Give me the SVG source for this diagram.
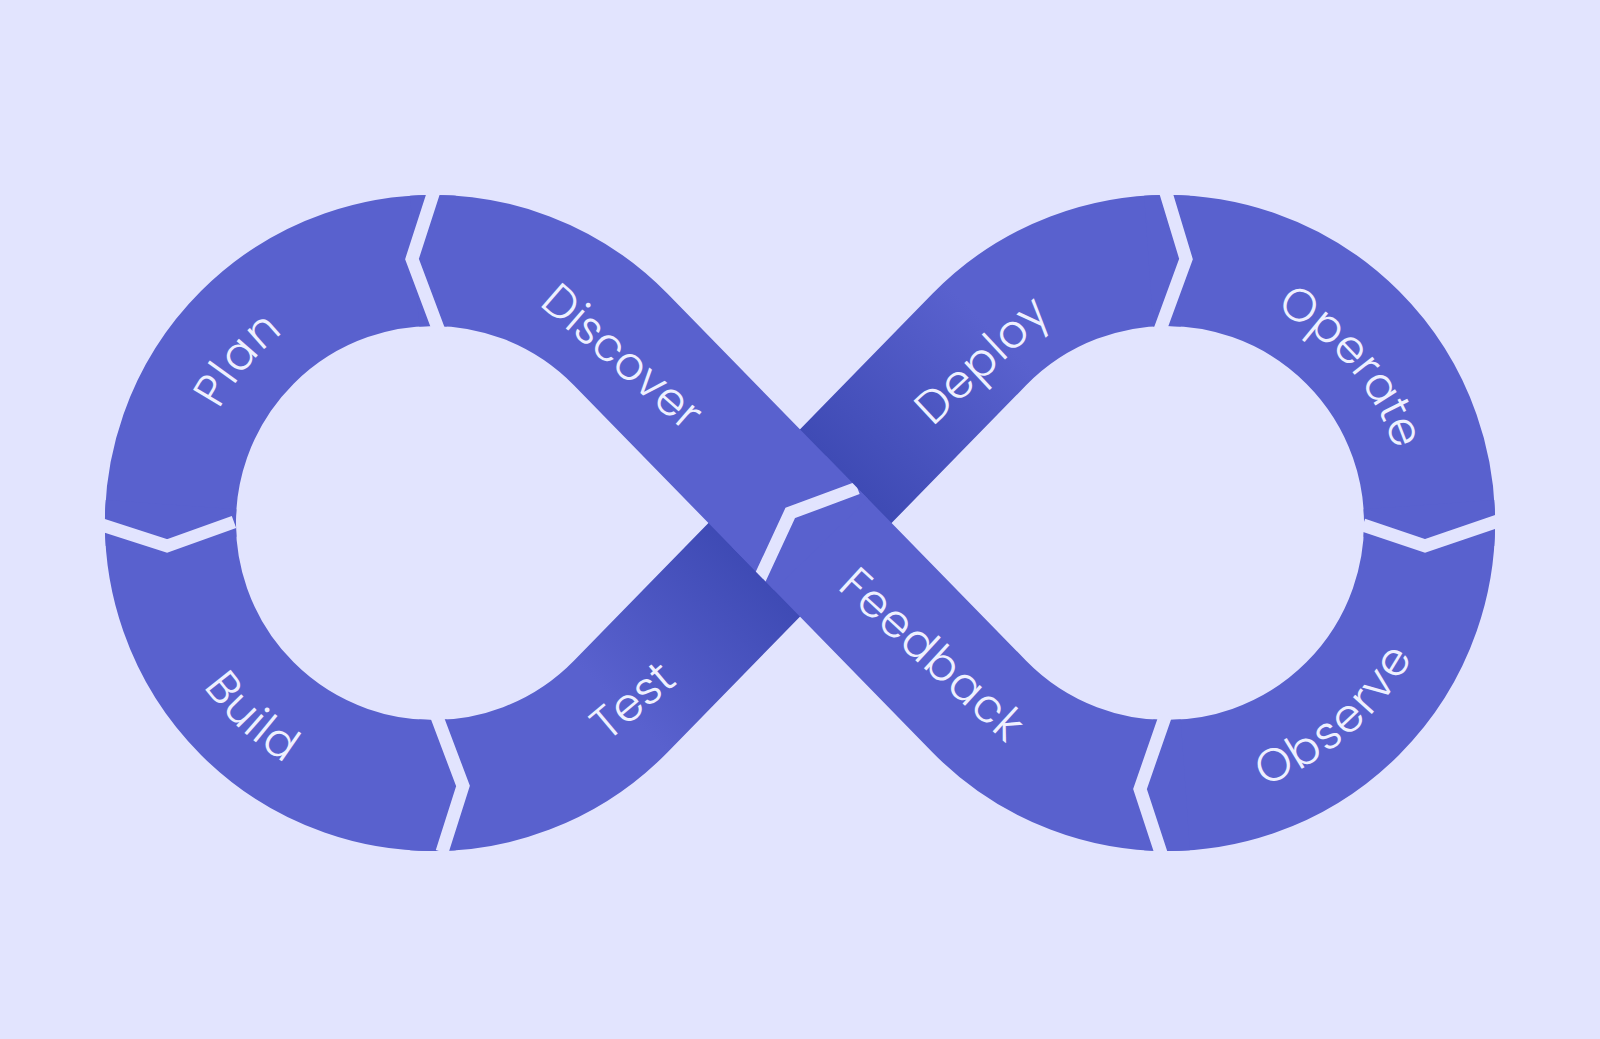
<svg xmlns="http://www.w3.org/2000/svg" width="1600" height="1039" viewBox="0 0 1600 1039">
  <style>
    .band { fill: none; stroke: #5961CE; stroke-width: 131; stroke-linecap: butt; }
    .lbl { font-family: "Poppins", "Open Sans", "Liberation Sans", sans-serif; font-size: 46px; font-weight: 300; fill: #EEF0FF; text-anchor: middle; }
    .sep { fill: none; stroke: #E2E4FE; stroke-width: 13; stroke-linejoin: miter; stroke-linecap: butt; }
  </style>
  <defs>
    <linearGradient id="gTest" gradientUnits="userSpaceOnUse" x1="620.76" y1="706.45" x2="758.1" y2="565.9">
      <stop offset="0" stop-color="#5961CE"/>
      <stop offset="1" stop-color="#3E4AB4"/>
    </linearGradient>
    <linearGradient id="gDeploy" gradientUnits="userSpaceOnUse" x1="841.9" y1="480.1" x2="990" y2="328">
      <stop offset="0" stop-color="#3E4AB4"/>
      <stop offset="1" stop-color="#5961CE"/>
    </linearGradient>
    <clipPath id="clipCross">
      <polygon points="707.07,334.16 986.63,620.28 892.93,711.84 613.37,425.72"/>
    </clipPath>
    <path id="tpPlan" d="M 205.3 605.6 A 243 243 0 0 1 475.2 283.7"/>
    <path id="tpOperate" d="M 1123.86 287.93 A 239 239 0 0 1 1392.15 603.17"/>
    <path id="tpBuild" d="M 158.23 459.56 A 282 282 0 0 0 515.45 792.68"/>
    <path id="tpObserve" d="M 1075.84 787.75 A 280 280 0 0 0 1441.86 469.57"/>
  </defs>

  <rect x="0" y="0" width="1600" height="1039" fill="#E2E4FE"/>

  <g id="test">
    <path class="band" style="stroke:url(#gTest)" d="M 414.7 784.9 A 262.5 262.5 0 0 0 620.76 706.45 L 800 523"/>
    <text class="lbl" x="633" y="701" dy="0.33em" transform="rotate(-40 633 701)">Test</text>
  </g>
  <g id="deploy">
    <path class="band" style="stroke:url(#gDeploy)" d="M 800 523 L 979.24 339.55 A 262.5 262.5 0 0 1 1185.3 261.1"/>
    <text class="lbl" x="982" y="360" dy="0.33em" transform="rotate(-43 982 360)" letter-spacing="1">Deploy</text>
  </g>
  <g id="plan">
    <path class="band" d="M 451.3 261.1 A 262.5 262.5 0 0 0 171.1 541.3"/>
    <text class="lbl" letter-spacing="1.5"><textPath href="#tpPlan" startOffset="50%">Plan</textPath></text>
  </g>
  <g id="build">
    <path class="band" d="M 171.1 504.7 A 262.5 262.5 0 0 0 451.3 784.9"/>
    <text class="lbl" letter-spacing="1"><textPath href="#tpBuild" startOffset="50%">Build</textPath></text>
  </g>
  <g id="operate">
    <path class="band" d="M 1148.7 261.1 A 262.5 262.5 0 0 1 1428.9 541.3"/>
    <text class="lbl"><textPath href="#tpOperate" startOffset="50%">Operate</textPath></text>
  </g>
  <g id="observe">
    <path class="band" d="M 1428.9 504.7 A 262.5 262.5 0 0 1 1148.7 784.9"/>
    <text class="lbl" letter-spacing="2"><textPath href="#tpObserve" startOffset="50%">Observe</textPath></text>
  </g>
  <g id="feedback">
    <path class="band" d="M 1185.3 784.9 A 262.5 262.5 0 0 1 979.24 706.45 L 779.0 501.5"/>
    <text class="lbl" x="932" y="655" dy="0.33em" transform="rotate(42.5 932 655)" letter-spacing="1">Feedback</text>
  </g>
  <g id="discover">
    <path class="band" d="M 821.0 544.5 L 620.76 339.55 A 262.5 262.5 0 0 0 414.7 261.1"/>
    <text class="lbl" x="622" y="357" dy="0.33em" transform="rotate(41 622 357)">Discover</text>
  </g>

  <g id="connectors">
    <polyline class="sep" points="434,191 412,259 439,331"/>
    <polyline class="sep" points="99,524 167,546 234,522"/>
    <polyline class="sep" points="437,717 463,786 442,852"/>
    <polyline class="sep" clip-path="url(#clipCross)" points="857.4,488.0 790.22,512.99 759.0,580.3"/>
    <polyline class="sep" points="1166,193 1186,259 1160,330"/>
    <polyline class="sep" points="1363,525 1425,546 1498,521"/>
    <polyline class="sep" points="1165,717 1140,789 1161,853"/>
  </g>
</svg>
